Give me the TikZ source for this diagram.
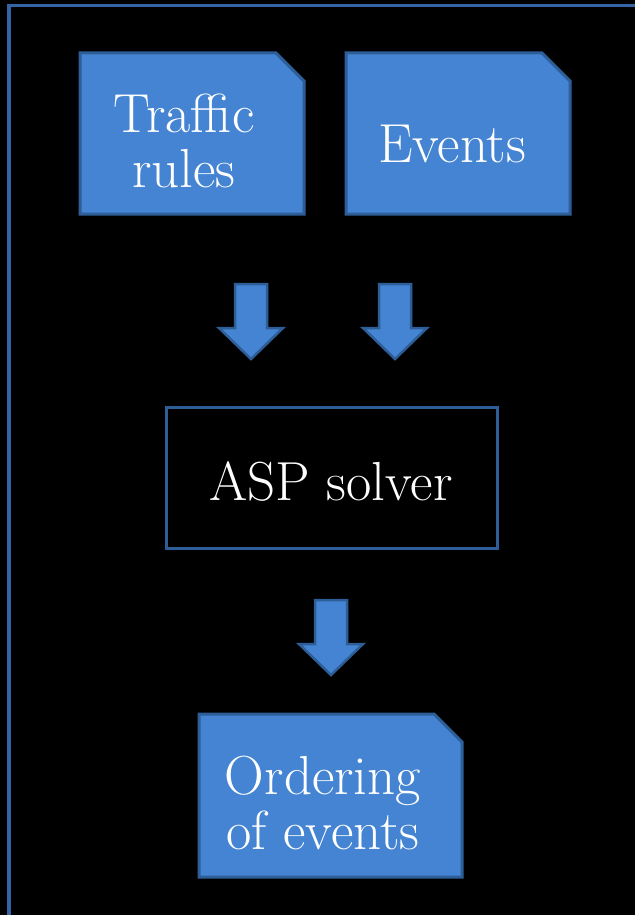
\documentclass[tikz,border=0pt]{standalone}
\usetikzlibrary{calc}
\definecolor{boxfill}{RGB}{68,132,210}
\definecolor{boxline}{RGB}{46,94,152}
\definecolor{framecol}{RGB}{52,100,166}
\tikzset{
  docbox/.style={draw=boxline, fill=boxfill, line width=3pt, line join=miter},
  plainbox/.style={draw=boxline, fill=black, line width=3pt},
  spacer/.style={inner sep=0pt, outer sep=0pt},
  label/.style={text=white, font=\fontsize{55}{55}\selectfont, align=center, inner sep=0pt, anchor=base},
  darrow/.pic={
    \draw[docbox, line width=2.5pt] (-16,0) -- (16,0) -- (16,44) -- (32,44) -- (0,75)
      -- (-32,44) -- (-16,44) -- cycle;
  }
}
\begin{document}
\begin{tikzpicture}[x=1pt, y=-1pt]
  % page and outer frame
  \fill[black] (0,0) rectangle (635,915);
  \useasboundingbox (0,0) rectangle (635,915);
  \draw[framecol, line width=3.8pt] (9,915) -- (9,5.5) -- (635,5.5);

  % boxes (shape holders)
  \node[spacer, minimum width=224pt, minimum height=161pt] (traffic) at (192,133.5) {};
  \node[spacer, minimum width=224pt, minimum height=161pt] (events) at (458,133.5) {};
  \node[spacer, minimum width=331pt, minimum height=141pt] (asp) at (331.5,477.5) {};
  \node[spacer, minimum width=263pt, minimum height=163pt] (order) at (330.5,795.5) {};

  % document outlines with cut corner
  \foreach \n in {traffic, events, order} {
    \draw[docbox] (\n.south west) -- (\n.north west) -- ($(\n.north east)+(-28,0)$)
      -- ($(\n.north east)+(0,28)$) -- (\n.south east) -- cycle;
  }
  \draw[plainbox] (asp.south west) rectangle (asp.north east);

  % texts (base anchor sits on the last line)
  \node[label] (ttraffic) at (184,187) {Traffic\\rules};
  \node[label] (tevents) at (452,162) {Events};
  \node[label] (tasp) at (331,500) {ASP solver};
  \node[label] (torder) at (323,849) {Ordering\\of events};

  % block arrows
  \coordinate (a1) at (251,284);
  \coordinate (a2) at (395,284);
  \coordinate (a3) at (331,600);
  \pic at (a1) {darrow};
  \pic at (a2) {darrow};
  \pic at (a3) {darrow};
\end{tikzpicture}
\end{document}
